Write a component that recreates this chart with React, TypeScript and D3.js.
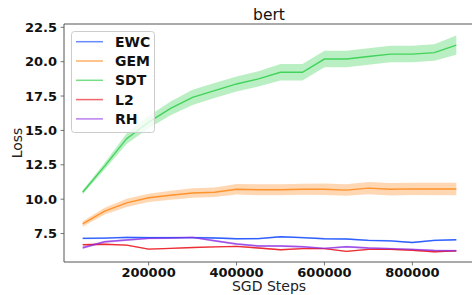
import * as d3 from "d3";

const width = 472;
const height = 295;
const margin = { top: 24, right: -3, bottom: 33, left: 64 };

const steps = [
  50000, 100000, 150000, 200000, 250000, 300000, 350000, 400000, 450000,
  500000, 550000, 600000, 650000, 700000, 750000, 800000, 850000, 900000,
];

const ewcMean = [7.15, 7.17, 7.22, 7.2, 7.2, 7.2, 7.18, 7.12, 7.13, 7.27, 7.2, 7.12, 7.1, 7.0, 6.97, 6.85, 7.0, 7.05];
const ewcStd = [0.06, 0.06, 0.06, 0.06, 0.06, 0.06, 0.06, 0.06, 0.06, 0.06, 0.06, 0.06, 0.06, 0.06, 0.06, 0.06, 0.06, 0.06];

const gemMean = [8.2, 9.13, 9.73, 10.1, 10.28, 10.45, 10.5, 10.72, 10.68, 10.68, 10.72, 10.72, 10.66, 10.8, 10.72, 10.75, 10.74, 10.74];
const gemStd = [0.2, 0.25, 0.3, 0.3, 0.33, 0.35, 0.35, 0.38, 0.4, 0.4, 0.4, 0.42, 0.42, 0.45, 0.45, 0.45, 0.45, 0.45];

const sdtMean = [10.5, 12.4, 14.4, 15.6, 16.6, 17.4, 17.9, 18.38, 18.75, 19.23, 19.23, 20.19, 20.19, 20.38, 20.55, 20.55, 20.66, 21.2];
const sdtStd = [0.15, 0.25, 0.38, 0.45, 0.5, 0.55, 0.55, 0.55, 0.55, 0.6, 0.6, 0.6, 0.6, 0.6, 0.6, 0.6, 0.6, 0.7];

const l2Mean = [6.69, 6.72, 6.66, 6.37, 6.42, 6.48, 6.53, 6.57, 6.45, 6.32, 6.4, 6.4, 6.2, 6.35, 6.35, 6.28, 6.18, 6.24];
const l2Std = [0.05, 0.05, 0.05, 0.05, 0.05, 0.05, 0.05, 0.05, 0.05, 0.05, 0.05, 0.05, 0.05, 0.05, 0.05, 0.05, 0.05, 0.05];

const rhMean = [6.47, 6.9, 7.03, 7.15, 7.17, 7.22, 6.98, 6.74, 6.59, 6.59, 6.54, 6.42, 6.54, 6.45, 6.4, 6.35, 6.27, 6.25];
const rhStd = [0.1, 0.08, 0.07, 0.07, 0.07, 0.07, 0.07, 0.07, 0.07, 0.07, 0.07, 0.07, 0.07, 0.07, 0.07, 0.07, 0.07, 0.07];

const methods = ["EWC", "GEM", "SDT", "L2", "RH"];
const colors = ["#023eff", "#ff7c00", "#1ac938", "#e8000b", "#8b2be2"];
const means = [ewcMean, gemMean, sdtMean, l2Mean, rhMean];
const stds = [ewcStd, gemStd, sdtStd, l2Std, rhStd];

const yTicks = [7.5, 10.0, 12.5, 15.0, 17.5, 20.0, 22.5];
const xTicks = [200000, 400000, 600000, 800000];

const font = "'DejaVu Sans', sans-serif";

export default function App() {
  const x = d3
    .scaleLinear()
    .domain([7500, 942500])
    .range([margin.left, width - margin.right]);
  const y = d3
    .scaleLinear()
    .domain([5.43, 22.74])
    .range([height - margin.bottom, margin.top]);

  const line = d3
    .line<number>()
    .x((_, i) => x(steps[i]))
    .y((d) => y(d));

  const bottom = height - margin.bottom;

  // draw order: bands first, then lines
  return (
    <svg
      width={width}
      height={height}
      style={{ position: "absolute", left: 0, top: 0, background: "#fff" }}
      fontFamily={font}
    >
      <defs>
        <clipPath id="plot">
          <rect
            x={margin.left}
            y={margin.top}
            width={width - margin.right - margin.left}
            height={bottom - margin.top}
          />
        </clipPath>
      </defs>
      <g clipPath="url(#plot)">
        {means.map((m, k) => {
          const area = d3
            .area<number>()
            .x((_, i) => x(steps[i]))
            .y0((d, i) => y(d - stds[k][i]))
            .y1((d, i) => y(d + stds[k][i]));
          return (
            <path key={"a" + k} d={area(m) || ""} fill={colors[k]} fillOpacity={0.3} stroke="none" />
          );
        })}
        {means.map((m, k) => (
          <path key={"l" + k} d={line(m) || ""} fill="none" stroke={colors[k]} strokeWidth={1.4} opacity={0.75} />
        ))}
      </g>

      {/* spines */}
      <line x1={margin.left} x2={margin.left} y1={margin.top} y2={bottom} stroke="#555" strokeWidth={1} />
      <line x1={margin.left} x2={width} y1={margin.top} y2={margin.top} stroke="#555" strokeWidth={1} />
      <line x1={margin.left} x2={width} y1={bottom} y2={bottom} stroke="#555" strokeWidth={1} />

      {/* y ticks */}
      {yTicks.map((t) => (
        <g key={"y" + t}>
          <line x1={margin.left - 3.5} x2={margin.left} y1={y(t)} y2={y(t)} stroke="#555" strokeWidth={0.8} />
          <text
            x={margin.left - 7}
            y={y(t)}
            dy="0.36em"
            textAnchor="end"
            fontSize={13}
            fontWeight="bold"
            fill="#111"
          >
            {t.toFixed(1)}
          </text>
        </g>
      ))}

      {/* x ticks */}
      {xTicks.map((t) => (
        <g key={"x" + t}>
          <line x1={x(t)} x2={x(t)} y1={bottom} y2={bottom + 3.5} stroke="#555" strokeWidth={0.8} />
          <text x={x(t)} y={bottom + 15} textAnchor="middle" fontSize={13} fontWeight="bold" fill="#111">
            {t}
          </text>
        </g>
      ))}

      <text x={269} y={20} textAnchor="middle" fontSize={15.5} fill="#111">
        bert
      </text>
      <text x={269} y={291} textAnchor="middle" fontSize={14} fill="#222">
        SGD Steps
      </text>
      <text
        transform={`translate(22, ${(margin.top + bottom) / 2}) rotate(-90)`}
        textAnchor="middle"
        fontSize={14}
        fill="#222"
      >
        Loss
      </text>

      {/* legend */}
      <rect x={71.5} y={31.5} width={83} height={101} rx={3} fill="#fff" fillOpacity={0.8} stroke="#ccc" strokeWidth={1} />
      {methods.map((name, k) => (
        <g key={name} transform={`translate(0, ${41.7 + k * 19.3})`}>
          <line x1={76} x2={103} y1={0} y2={0} stroke={colors[k]} strokeWidth={1.5} opacity={0.6} />
          <text x={115} y={0} dy="0.36em" fontSize={14} fontWeight="bold" fill="#111">
            {name}
          </text>
        </g>
      ))}
    </svg>
  );
}
